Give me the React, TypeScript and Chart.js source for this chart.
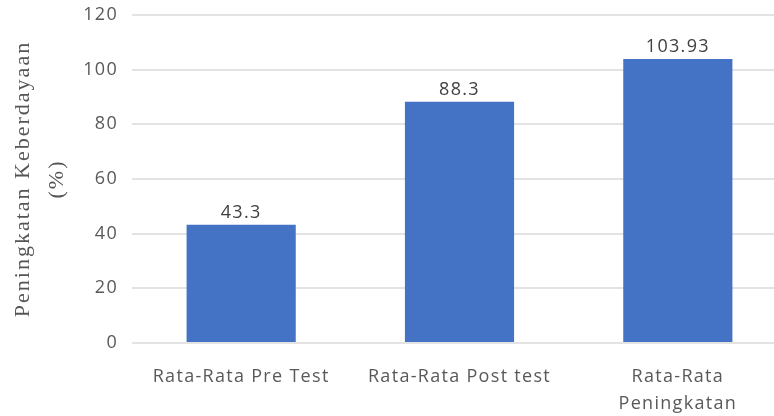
import { useEffect, useRef } from "react";
import { Chart, registerables } from "chart.js";

Chart.register(...registerables);

const categories: (string | string[])[] = [
  "Rata-Rata Pre Test",
  "Rata-Rata Post test",
  ["Rata-Rata", "Peningkatan"],
];
const values = [43.3, 88.3, 103.93];
const valueLabels = ["43.3", "88.3", "103.93"];
const yTicks = [0, 20, 40, 60, 80, 100, 120];
const yTitle = ["Peningkatan Keberdayaan", "(%)"];

const TEXT = "#595959";
const SANS = '"Open Sans", "Liberation Sans", sans-serif';
const SERIF = '"Liberation Serif", "DejaVu Serif", serif';
const SPACING = "1.3px";

export default function App() {
  const ref = useRef<HTMLCanvasElement>(null);

  useEffect(() => {
    if (!ref.current) return;

    const spacingPlugin = {
      id: "spacing",
      beforeDraw(chart: any) {
        chart.ctx.letterSpacing = SPACING;
      },
    };

    const valuePlugin = {
      id: "valueLabels",
      afterDatasetsDraw(chart: any) {
        const ctx = chart.ctx;
        const meta = chart.getDatasetMeta(0);
        ctx.save();
        ctx.font = `18px ${SANS}`;
        ctx.letterSpacing = SPACING;
        ctx.fillStyle = "#404040";
        ctx.textAlign = "center";
        ctx.textBaseline = "middle";
        meta.data.forEach((bar: any, i: number) => {
          ctx.fillText(valueLabels[i], bar.x, bar.y - 12);
        });
        ctx.restore();
      },
    };

    const titlePlugin = {
      id: "yTitle",
      afterDraw(chart: any) {
        const ctx = chart.ctx;
        const area = chart.chartArea;
        ctx.save();
        ctx.font = `22px ${SERIF}`;
        ctx.letterSpacing = "2px";
        ctx.fillStyle = "#555555";
        ctx.textAlign = "center";
        ctx.textBaseline = "alphabetic";
        ctx.translate(29, (area.top + area.bottom) / 2);
        ctx.rotate(-Math.PI / 2);
        yTitle.forEach((line, i) => ctx.fillText(line, 0, i * 34));
        ctx.restore();
      },
    };

    const chart = new Chart(ref.current, {
      type: "bar",
      data: {
        labels: categories as any,
        datasets: [
          {
            data: values,
            backgroundColor: "#4472C4",
            categoryPercentage: 1,
            barPercentage: 0.5,
          },
        ],
      },
      options: {
        animation: false,
        responsive: false,
        maintainAspectRatio: false,
        layout: { padding: { top: 15, left: 0, right: 13, bottom: 0 } },
        plugins: {
          legend: { display: false },
          tooltip: { enabled: false },
        },
        scales: {
          x: {
            grid: { display: false, drawTicks: false },
            border: { display: false },
            afterFit(scale: any) {
              scale.height = 73;
              scale.paddingLeft = 0;
              scale.paddingRight = 0;
            },
            ticks: {
              color: TEXT,
              font: { family: SANS, size: 18, lineHeight: 1.5 },
              padding: 20,
              maxRotation: 0,
              autoSkip: false,
            },
          },
          y: {
            min: 0,
            max: 120,
            afterBuildTicks(scale: any) {
              scale.ticks = yTicks.map((v) => ({ value: v }));
            },
            afterFit(scale: any) {
              scale.width = 132;
              scale.paddingTop = 0;
              scale.paddingBottom = 0;
            },
            grid: { color: "#e3e3e3", lineWidth: 2, drawTicks: false },
            border: { display: false },
            ticks: {
              color: TEXT,
              font: { family: SANS, size: 18 },
              padding: 14,
            },
          },
        },
      },
      plugins: [spacingPlugin, valuePlugin, titlePlugin],
    });

    return () => chart.destroy();
  }, []);

  return (
    <div
      style={{
        position: "fixed",
        left: 0,
        top: 0,
        width: 774,
        height: 416,
        overflow: "hidden",
        background: "#fff",
      }}
    >
      <canvas
        ref={ref}
        width={800}
        height={416}
        style={{ display: "block", width: 800, height: 416 }}
      />
    </div>
  );
}
